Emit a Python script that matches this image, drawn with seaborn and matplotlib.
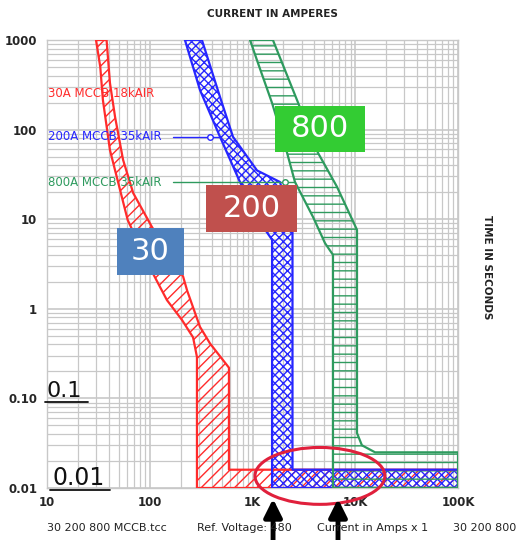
"""Time-current curves for the 30A / 200A / 800A MCCB coordination study."""

import matplotlib

matplotlib.use("Agg")

import matplotlib.pyplot as plt
import numpy as np
import pandas as pd
import seaborn as sns
from matplotlib.patches import Ellipse, Rectangle
from matplotlib.ticker import FixedLocator, LogLocator, NullFormatter

# 30A MCCB 18kAIR band (current in A, time in s)
red_left_amps = [30, 33, 35, 41, 61, 100, 147, 206, 264, 288, 288]
red_left_secs = [1000, 500, 214, 59, 9.8, 2.9, 1.25, 0.75, 0.48, 0.29, 0.01]
red_right_amps = [38, 41, 46, 55, 69, 105, 211, 231, 308, 386, 590, 590, 100000, 100000]
red_right_secs = [1000, 331, 138, 46, 19.6, 8.2, 2.3, 1.6, 0.63, 0.41, 0.22, 0.016, 0.016, 0.01]

# 200A MCCB 35kAIR band
blue_left_amps = [220, 308, 483, 755, 1236, 1550, 1550]
blue_left_secs = [1000, 277, 83, 26, 8.6, 5.9, 0.01]
blue_right_amps = [322, 483, 646, 1107, 1853, 2450, 2450, 100000, 100000]
blue_right_secs = [1000, 231, 83, 35, 26, 7.6, 0.016, 0.016, 0.01]

# 800A MCCB 35kAIR band
green_left_amps = [946, 1130, 1550, 2170, 2590, 3880, 5080, 6070, 6070]
green_left_secs = [1000, 554, 198, 55, 26, 10.6, 5.4, 4.0, 0.01]
green_right_amps = [1580, 2710, 4340, 6640, 10400, 10400, 11600, 15600, 100000, 100000]
green_right_secs = [1000, 214, 55, 23, 7.6, 0.041, 0.030, 0.025, 0.025, 0.01]

curve_labels = ["30A MCCB 18kAIR", "200A MCCB 35kAIR", "800A MCCB 35kAIR"]
label_secs = [256, 83, 26]
leader_end_amps = [None, 483, 2590]
leader_dot_amps = [None, 386, 2070]

x_ticks = [10, 100, 1000, 10000, 100000]
x_tick_labels = ["10", "100", "1K", "10K", "100K"]
y_ticks = [0.01, 0.1, 1, 10, 100, 1000]
y_tick_labels = ["0.01", "0.10", "1", "10", "100", "1000"]

RED = "#ff2b2b"
BLUE = "#2626ff"
GREEN = "#2e9a5e"
GRID = "#c8c8c8"


def draw_band(ax, left_amps, left_secs, right_amps, right_secs, color, hatch):
    xs = list(left_amps) + list(right_amps[::-1])
    ys = list(left_secs) + list(right_secs[::-1])
    ax.fill(xs, ys, facecolor="none", edgecolor=color, hatch=hatch, lw=0, zorder=2)
    outline = pd.DataFrame({"amps": xs + xs[:1], "secs": ys + ys[:1]})
    sns.lineplot(
        data=outline, x="amps", y="secs", sort=False, estimator=None,
        color=color, lw=1.6, ax=ax, zorder=3,
    )


sns.set_theme(style="white")
plt.rcParams["font.family"] = ["DejaVu Sans"]
plt.rcParams["hatch.linewidth"] = 1.0

fig = plt.figure(figsize=(5.21, 5.40), dpi=100)
ax = fig.add_axes([0.0902, 0.0963, 0.7889, 0.8296])
ax.set_xscale("log")
ax.set_yscale("log")
ax.set_xlim(10, 100000)
ax.set_ylim(0.01, 1000)

ax.xaxis.set_major_locator(FixedLocator(x_ticks))
ax.yaxis.set_major_locator(FixedLocator(y_ticks))
for axis in (ax.xaxis, ax.yaxis):
    axis.set_minor_locator(LogLocator(base=10, subs=np.arange(2, 10)))
    axis.set_minor_formatter(NullFormatter())
ax.set_xticklabels(x_tick_labels, fontsize=8.5, fontweight="bold")
ax.set_yticklabels(y_tick_labels, fontsize=8.5, fontweight="bold")
ax.tick_params(axis="both", which="both", length=0)
ax.tick_params(axis="x", pad=6)
ax.tick_params(axis="y", pad=7)
ax.grid(True, which="major", color=GRID, lw=1.2)
ax.grid(True, which="minor", color=GRID, lw=0.9)
ax.set_axisbelow(True)
for spine in ax.spines.values():
    spine.set_color(GRID)
    spine.set_linewidth(1.0)

draw_band(ax, red_left_amps, red_left_secs, red_right_amps, red_right_secs, RED, "///")
draw_band(ax, blue_left_amps, blue_left_secs, blue_right_amps, blue_right_secs, BLUE, "xxxx")
draw_band(ax, green_left_amps, green_left_secs, green_right_amps, green_right_secs, GREEN, "--")
ax.set_xlabel("")
ax.set_ylabel("")

# curve labels with leader lines
label_colors = [RED, BLUE, GREEN]
for text, secs, end, dot, color in zip(
    curve_labels, label_secs, leader_end_amps, leader_dot_amps, label_colors
):
    ax.text(10.2, secs, text, color=color, fontsize=8.5, ha="left", va="center", zorder=5)
    if end is not None:
        ax.plot([168, end], [secs, secs], color=color, lw=1.0, zorder=5)
        ax.plot([dot], [secs], marker="o", ms=4, mfc="white", mec=color, mew=1.0, zorder=5)

# numbered boxes
boxes = [
    ("800", 0.555, 0.750, 0.219, 0.103, "#33cc33"),
    ("200", 0.387, 0.571, 0.221, 0.105, "#c0504d"),
    ("30", 0.170, 0.475, 0.163, 0.105, "#4f81bd"),
]
for text, x0, y0, w, h, color in boxes:
    ax.add_patch(Rectangle((x0, y0), w, h, transform=ax.transAxes, facecolor=color,
                           edgecolor="none", zorder=6))
    ax.text(x0 + w / 2, y0 + h / 2, text, transform=ax.transAxes, color="white",
            fontsize=22, ha="center", va="center", zorder=7)

# underlined time markers
ax.text(0.0, 0.203, "0.1", transform=ax.transAxes, fontsize=16, ha="left",
        va="baseline", color="#111111", zorder=5)
ax.plot([-0.005, 0.10], [0.192, 0.192], transform=ax.transAxes, color="#111111",
        lw=1.3, clip_on=False, zorder=5)
ax.text(0.0146, 0.0067, "0.01", transform=ax.transAxes, fontsize=17, ha="left",
        va="baseline", color="#111111", zorder=5)
ax.plot([0.007, 0.153], [-0.0045, -0.0045], transform=ax.transAxes, color="#111111",
        lw=1.3, clip_on=False, zorder=5)

# highlight of the instantaneous region
ax.add_patch(Ellipse((0.664, 0.027), 0.316, 0.127, transform=ax.transAxes, fill=False,
                     edgecolor="#e0203c", lw=2.2, clip_on=False, zorder=8))
for xa in (0.550, 0.708):
    ax.annotate("", xy=(xa, -0.018), xytext=(xa, -0.14), xycoords="axes fraction",
                arrowprops=dict(arrowstyle="-|>,head_width=0.45,head_length=0.9",
                                lw=3.5, color="black"),
                annotation_clip=False, zorder=9)

fig.text(0.522, 0.974, "CURRENT IN AMPERES", fontsize=7.5, fontweight="bold",
         ha="center", va="center", color="#222222")
fig.text(0.935, 0.506, "TIME IN SECONDS", fontsize=7.5, fontweight="bold",
         ha="center", va="center", rotation=-90, color="#222222")

footer = ["30 200 800 MCCB.tcc", "Ref. Voltage: 480", "Current in Amps x 1", "30 200 800"]
footer_x = [0.090, 0.378, 0.608, 0.869]
for text, xf in zip(footer, footer_x):
    fig.text(xf, 0.022, text, fontsize=8, ha="left", va="center", color="#222222")

fig.savefig("out.png", dpi=100)
plt.close(fig)
